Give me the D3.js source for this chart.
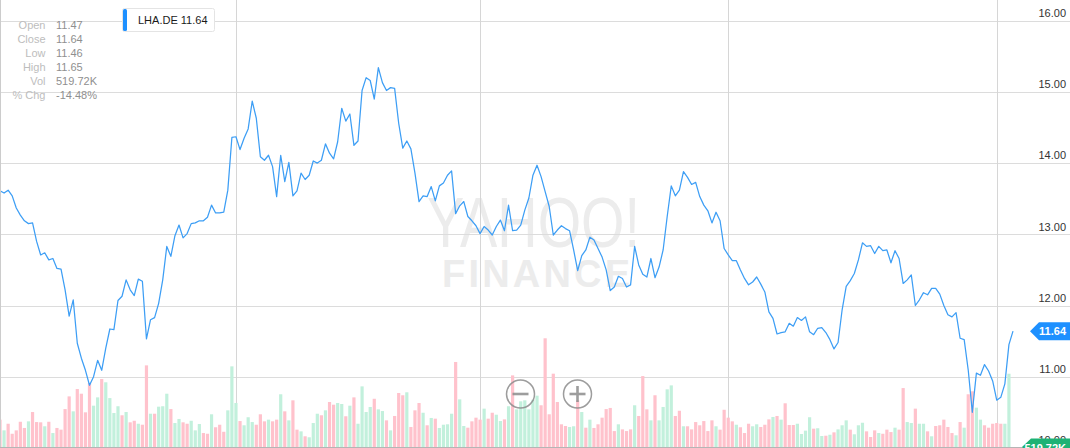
<!DOCTYPE html>
<html><head><meta charset="utf-8">
<script src="https://cdn.jsdelivr.net/npm/d3@7"></script>
<style>
html,body{margin:0;padding:0;background:#fff;overflow:hidden}
svg{display:block;font-family:"Liberation Sans",Arial,Helvetica,sans-serif}
</style>
</head><body>
<svg id="chart" width="1070" height="448"></svg>
<script>
// ---------- DATA ----------
const symbol = "LHA.DE";
const lastPriceLabel = "11.64";
const lastVolLabel = "519.72K";
const statLabels = ["Open","Close","Low","High","Vol","% Chg"];
const statValues = ["11.47","11.64","11.46","11.65","519.72K","-14.48%"];
const yTicks = [10,11,12,13,14,15,16];
const quarterIdx = [58,118,179,245];
const watermark = ["YAHOO!","FINANCE"];

const closes = [
13.61,13.58,13.62,13.54,13.37,13.27,13.19,13.15,13.16,12.90,
12.71,12.74,12.64,12.66,12.52,12.51,12.22,11.85,12.08,11.47,
11.26,11.09,10.88,11.00,11.23,11.09,11.40,11.67,11.66,12.07,
12.13,12.36,12.22,12.14,12.37,12.34,11.53,11.80,11.83,12.03,
12.36,12.83,12.69,12.98,13.13,12.95,13.01,13.15,13.16,13.19,
13.19,13.24,13.41,13.30,13.30,13.31,13.62,
14.36,14.37,14.19,14.35,14.48,14.87,14.63,14.09,14.04,14.11,
13.95,13.53,14.11,13.74,14.01,13.54,13.61,13.86,13.77,13.83,
14.03,14.00,14.04,14.27,14.14,14.06,14.30,14.77,14.59,14.69,
14.25,14.31,15.02,15.20,15.16,14.90,15.34,15.13,15.02,15.06,
15.05,14.56,14.21,14.31,14.20,13.86,13.46,13.54,13.53,13.67,
13.47,13.68,13.72,13.83,13.89,
13.29,13.40,13.46,13.25,13.19,13.12,13.01,13.11,13.06,12.99,
13.11,13.20,13.05,13.41,13.05,13.06,13.13,13.34,13.51,13.83,
13.97,13.81,13.60,13.39,12.99,13.06,13.12,13.08,13.05,12.78,
12.49,12.70,12.78,12.96,12.92,12.80,12.68,12.50,12.21,12.26,
12.41,12.38,12.26,12.29,12.83,12.57,12.44,12.40,12.66,12.39,
12.54,12.78,13.25,13.68,13.54,13.62,13.88,13.80,13.70,13.73,
13.53,13.41,13.33,13.16,13.31,13.19,12.80,12.71,12.63,12.63,
12.50,12.38,12.29,12.33,12.40,12.30,12.19,11.91,11.82,11.60,
11.62,11.63,11.75,11.71,11.83,11.79,11.84,11.63,11.59,11.68,
11.69,11.62,11.52,11.39,11.48,11.94,12.27,12.35,12.45,12.64,
12.88,12.83,12.84,12.73,12.83,12.77,12.78,12.60,12.77,12.66,
12.31,12.36,12.43,12.00,12.08,12.18,12.15,12.24,12.24,12.16,
12.00,11.87,11.84,11.90,11.54,11.52,11.09,10.50,11.05,11.02,
11.17,11.08,10.94,10.67,10.71,10.90,11.45,11.64
];

// volume in thousands
const volumesK = [
194,118,165,94,118,179,135,182,248,177,
175,147,179,99,135,123,269,359,253,411,
378,246,454,293,352,482,459,347,241,289,
225,248,175,186,165,158,579,236,236,286,
289,378,269,170,199,175,165,186,118,163,
99,94,232,140,158,108,260,572,312,184,
154,211,177,158,232,182,194,182,194,374,
253,189,331,123,111,76,69,170,236,225,
260,319,300,312,305,218,293,352,165,
430,248,284,342,267,255,189,118,220,383,
367,388,142,260,312,243,154,206,201,135,
158,161,236,603,338,149,137,182,208,194,
272,201,243,229,184,196,289,508,267,324,
331,267,335,364,296,771,232,520,319,161,
149,142,147,331,248,137,194,135,161,208,
269,277,113,161,125,113,125,296,220,503,
267,189,367,189,284,409,437,220,257,147,
147,125,177,
154,184,113,189,147,123,264,208,182,158,
140,99,165,147,161,142,158,196,213,220,
194,310,156,156,165,92,116,211,130,133,
78,80,87,104,125,154,189,123,90,154,
172,111,71,118,99,94,123,
106,137,123,418,177,170,272,165,165,111,
76,149,154,194,142,99,83,177,137,374,
395,279,194,154,137,165,170,165,165,519.72
];

const volDir = (
"DUDDDDDUDD"+"DUDUDDDDUD"+"DDDUUDUUUU"+"DUDDUDDUDU"+"UUDUUDDUUU"+
"DDUDDDUUUD"+"UUUDDDUDDU"+"DUDDUDUUUD"+"UDDUUDUDU"+
"UUUDUUDUDD"+"DUDDDUDUDU"+"UUUDUUDDDD"+"UDDUUDUDUU"+"UUUUDDDDDD"+
"DUUDUDUDDD"+"DDDUDDDUDD"+"DUDUUUUDDU"+"DDD"+
"DDDDUDDDDU"+"DDDUUDDDUD"+"UDDDUUUUDU"+"UDUDUUUDUU"+"UDDDUDD"+
"DUDDUUDUUD"+"UDDDDDUDUD"+"DUUDDDDDUU"
).split("");

// ---------- CHART ----------
const W = 1070, H = 448;
const svg = d3.select("#chart");
const x = d3.scaleLinear().domain([0, closes.length - 1]).range([0, 1013]);
const y = d3.scaleLinear().domain([10, 16]).range([447.9, 20.7]);
const v = d3.scaleLinear().domain([0, 1000]).range([0, 141]);
const base = 447;

// watermark
const wm = svg.append("g").attr("fill", "#ececec");
wm.append("text").attr("x", 427).attr("y", 247).attr("font-size", 70)
  .attr("textLength", 213).attr("lengthAdjust", "spacingAndGlyphs").text(watermark[0]);
wm.append("text").attr("x", 442).attr("y", 287).attr("font-size", 38).attr("font-weight", "bold")
  .attr("textLength", 188).attr("lengthAdjust", "spacing").text(watermark[1]);

// horizontal grid
svg.append("g").selectAll("line").data(yTicks).join("line")
  .attr("x1", 0).attr("x2", W)
  .attr("y1", d => Math.round(y(d)) + 0.5).attr("y2", d => Math.round(y(d)) + 0.5)
  .attr("stroke", "#dcdcdc").attr("stroke-width", 1);

// vertical grid
svg.append("g").selectAll("line").data(quarterIdx).join("line")
  .attr("x1", d => Math.round(x(d)) + 0.5).attr("x2", d => Math.round(x(d)) + 0.5)
  .attr("y1", 0).attr("y2", H)
  .attr("stroke", "#d6d6d6").attr("stroke-width", 1);

// volume bars
svg.append("g").selectAll("rect").data(volumesK).join("rect")
  .attr("x", (d, i) => x(i) - 1.6)
  .attr("width", 3.2)
  .attr("y", d => base - v(d))
  .attr("height", d => v(d))
  .attr("fill", (d, i) => volDir[i] === "U" ? "#c2f0dc" : "#ffc2cc");

// zoom buttons
const zb = svg.append("g").attr("stroke", "#8c8c8c").attr("fill", "none").attr("opacity", 0.85);
[[520.5, 394, "-"], [577.5, 394, "+"]].forEach(([cx, cy, s]) => {
  zb.append("circle").attr("cx", cx).attr("cy", cy).attr("r", 14).attr("stroke-width", 1.5);
  zb.append("line").attr("x1", cx - 8).attr("x2", cx + 8).attr("y1", cy).attr("y2", cy).attr("stroke-width", 2.6);
  if (s === "+") zb.append("line").attr("x1", cx).attr("x2", cx).attr("y1", cy - 8).attr("y2", cy + 8).attr("stroke-width", 2.6);
});

// price line
svg.append("path").datum(closes)
  .attr("d", d3.line().x((d, i) => x(i)).y(d => y(d)))
  .attr("fill", "none").attr("stroke", "#3d9ef5").attr("stroke-width", 1.25)
  .attr("stroke-linejoin", "round");

// frame lines
svg.append("line").attr("x1", 0.5).attr("x2", 0.5).attr("y1", 0).attr("y2", H).attr("stroke", "#cccccc");
svg.append("line").attr("x1", 0).attr("x2", W).attr("y1", 447.5).attr("y2", 447.5).attr("stroke", "#b5b5b5");

// y labels
svg.append("g").selectAll("text").data(yTicks).join("text")
  .attr("x", 1066).attr("y", d => y(d) - 3.8)
  .attr("text-anchor", "end").attr("font-size", 11).attr("fill", "#333")
  .text(d => d3.format(".2f")(d));

// last price tag
const lp = closes[closes.length - 1];
const ly = y(lp);
svg.append("path")
  .attr("d", `M1030,${ly} L1039,${ly - 9} L1070,${ly - 9} L1070,${ly + 9} L1039,${ly + 9} Z`)
  .attr("fill", "#1e90ff");
svg.append("text").attr("x", 1066).attr("y", ly + 4).attr("text-anchor", "end")
  .attr("font-size", 11).attr("font-weight", "bold").attr("fill", "#fff").text(lastPriceLabel);

// volume tag
const vy = 447;
svg.append("path")
  .attr("d", `M1022,${vy} L1031,${vy - 8.5} L1070,${vy - 8.5} L1070,${vy + 9} L1031,${vy + 9} Z`)
  .attr("fill", "#1db274");
svg.append("text").attr("x", 1066).attr("y", vy + 4.5).attr("text-anchor", "end")
  .attr("font-size", 11).attr("font-weight", "bold").attr("fill", "#fff").text(lastVolLabel);

// legend box
const lg = svg.append("g");
lg.append("rect").attr("x", 122.5).attr("y", 8.5).attr("width", 92).attr("height", 23).attr("rx", 2)
  .attr("fill", "#fff").attr("stroke", "#e4e4e4");
lg.append("rect").attr("x", 123).attr("y", 9).attr("width", 4).attr("height", 22).attr("rx", 1.5).attr("fill", "#1e90ff");
lg.append("text").attr("x", 138).attr("y", 24).attr("font-size", 11).attr("fill", "#1a1a1a")
  .text(`${symbol} ${lastPriceLabel}`);

// stats
const st = svg.append("g").attr("font-size", 11);
st.selectAll("text.l").data(statLabels).join("text").attr("class", "l")
  .attr("x", 45.5).attr("y", (d, i) => 28.5 + i * 14).attr("text-anchor", "end").attr("fill", "#bdbdbd").text(d => d);
st.selectAll("text.v").data(statValues).join("text").attr("class", "v")
  .attr("x", 56).attr("y", (d, i) => 28.5 + i * 14).attr("fill", "#8f8f8f").text(d => d);
</script>
</body></html>
